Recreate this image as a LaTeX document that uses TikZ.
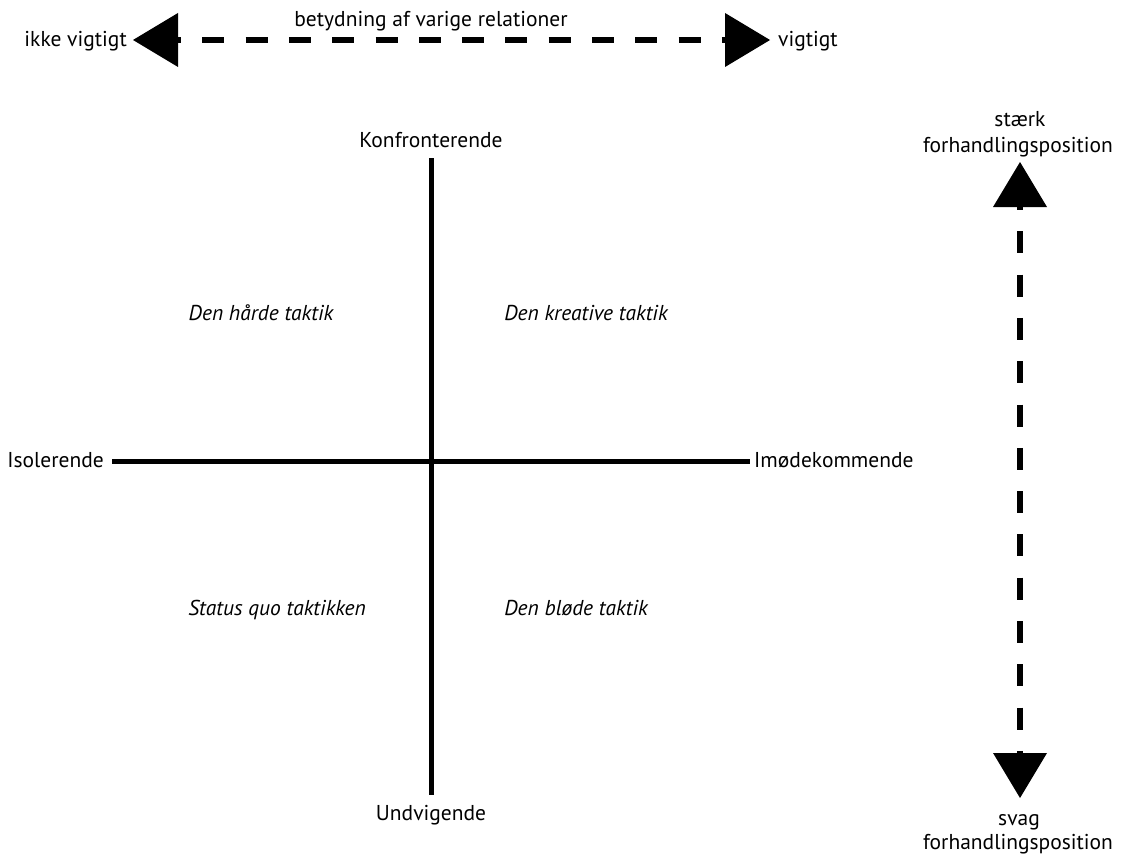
\documentclass[tikz,border=0pt]{standalone}
\usepackage{fontspec}
\setmainfont{PT Sans}
\usetikzlibrary{arrows.meta}
\begin{document}
\begin{tikzpicture}[x=1pt,y=-1pt,
  lbl/.style={font=\fontsize{21.5}{24}\selectfont, inner sep=0pt},
  quad/.style={font=\fontsize{21.5}{24}\selectfont\itshape, inner sep=0pt},
  axis/.style={line width=5pt},
  bigtri/.tip={Triangle[length=45pt,width=54pt,line width=0pt]},
  gauge/.style={line width=5.5pt, dash pattern=on 22pt off 21.3pt, dash phase=19pt}
]
\useasboundingbox[fill=white] (0,0) rectangle (1121,856);

% top scale
\coordinate (tl) at (133,40);
\coordinate (tr) at (770,40);
\draw[gauge, bigtri-bigtri] (tl) -- (tr);
\node[lbl, anchor=base east] (ikke) at (127,47) {ikke vigtigt};
\node[lbl, anchor=base west] (vig) at (778,47) {vigtigt};
\node[lbl, anchor=base] (bet) at (431,27) {betydning af varige relationer};

% right scale
\coordinate (rt) at (1020,162);
\coordinate (rb) at (1020,798);
\draw[gauge, bigtri-bigtri] (rt) -- (rb);
\node[lbl, anchor=base] (staerk) at (1020,127) {stærk};
\node[lbl, anchor=base] (fh1) at (1018,152) {forhandlingsposition};
\node[lbl, anchor=base] (svag) at (1019,825) {svag};
\node[lbl, anchor=base] (fh2) at (1018,849) {forhandlingsposition};

% axes
\coordinate (xl) at (112,461);
\coordinate (xr) at (750,461);
\coordinate (yt) at (431,158);
\coordinate (yb) at (431,795);
\draw[axis] (xl) -- (xr);
\draw[axis] (yt) -- (yb);
\node[lbl, anchor=base] (konf) at (431,147) {Konfronterende};
\node[lbl, anchor=base] (undv) at (431,820) {Undvigende};
\node[lbl, anchor=base east] (iso) at (104,467) {Isolerende};
\node[lbl, anchor=base west] (imo) at (754,467) {Imødekommende};

% quadrants
\node[quad, anchor=base] (q1) at (261,320) {Den hårde taktik};
\node[quad, anchor=base] (q2) at (586,320) {Den kreative taktik};
\node[quad, anchor=base] (q3) at (277,615) {Status quo taktikken};
\node[quad, anchor=base] (q4) at (576,615) {Den bløde taktik};
\end{tikzpicture}
\end{document}
